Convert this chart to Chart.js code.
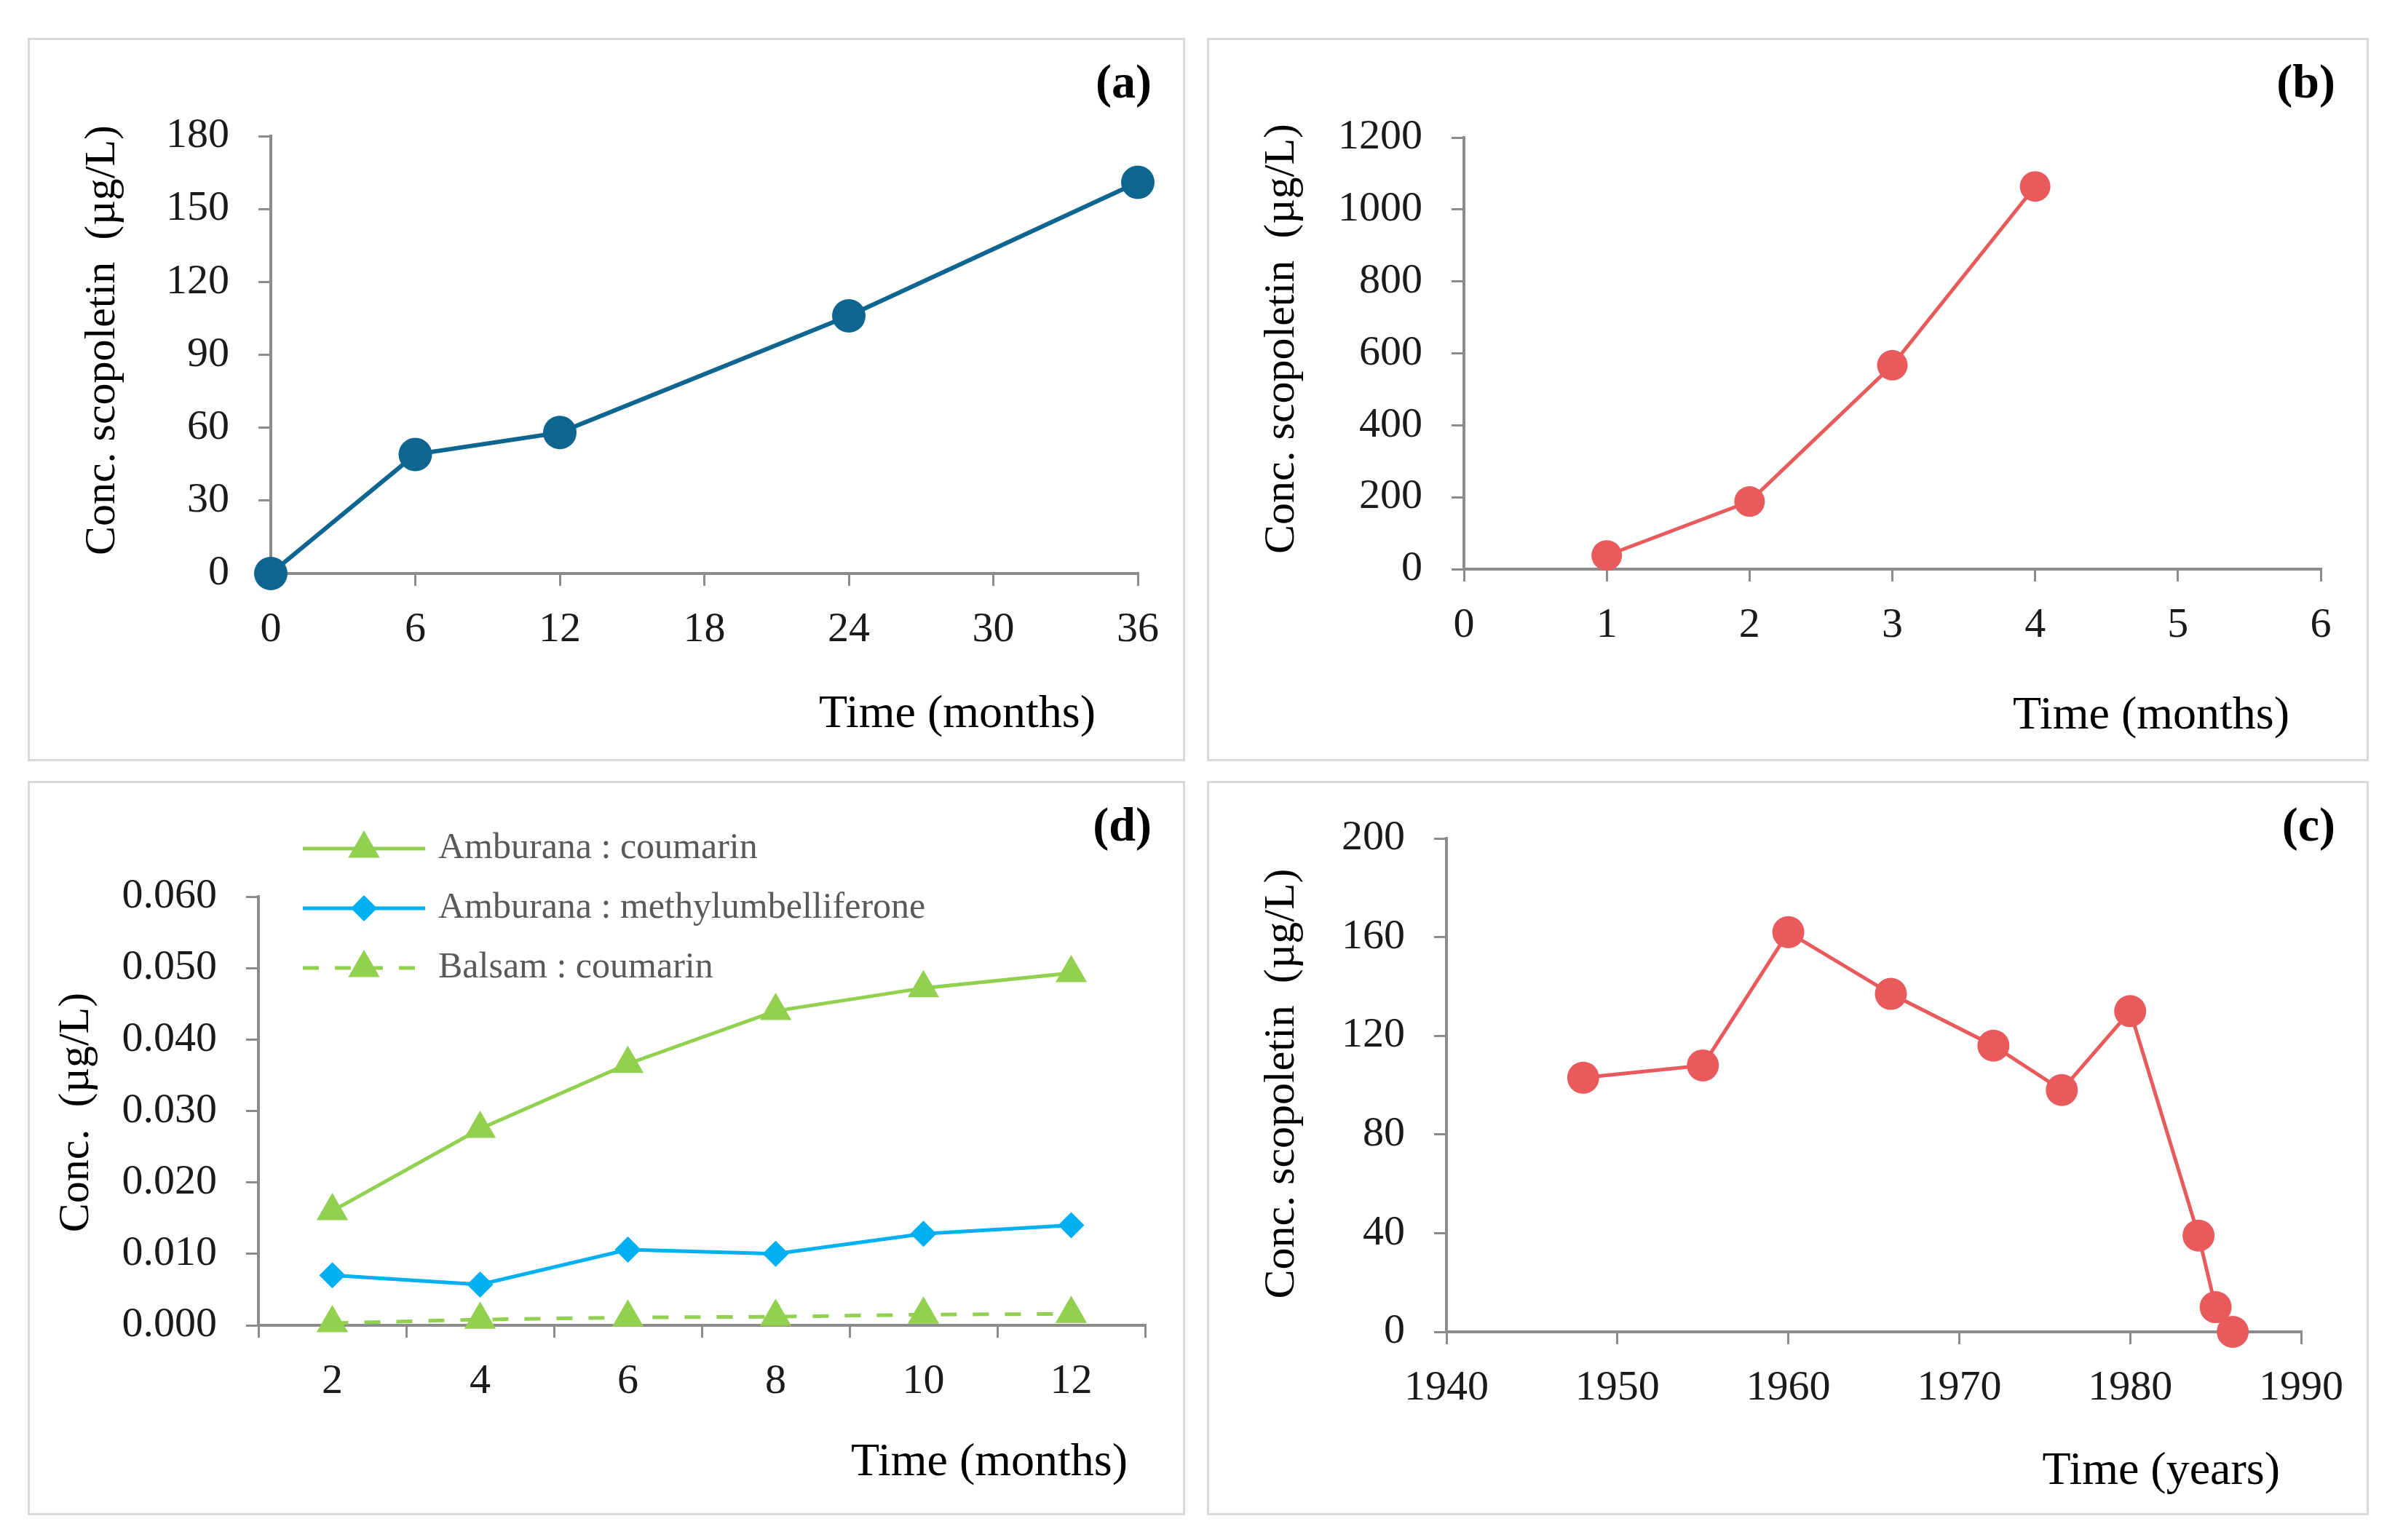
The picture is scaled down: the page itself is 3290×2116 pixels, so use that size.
<!DOCTYPE html>
<html><head><meta charset="utf-8">
<script src="https://cdn.jsdelivr.net/npm/chart.js@4.4.1/dist/chart.umd.min.js"></script>
<style>
html,body{margin:0;padding:0;background:#fff;width:3290px;height:2116px;overflow:hidden}
canvas{position:absolute}
</style></head><body>
<canvas id="pa" style="left:38px;top:52px" width="1590" height="994"></canvas>
<canvas id="pb" style="left:1658px;top:52px" width="1596" height="994"></canvas>
<canvas id="pd" style="left:38px;top:1073px" width="1590" height="1009"></canvas>
<canvas id="pc" style="left:1658px;top:1073px" width="1596" height="1009"></canvas>
<script>
// ---- data ----
const aMonths = [0, 6, 12, 24, 36];
const aScopoletin = [0, 49, 58, 106, 161];
const bMonths = [1, 2, 3, 4];
const bScopoletin = [38, 188, 567, 1064];
const cYears = [1948, 1955, 1960, 1966, 1972, 1976, 1980, 1984, 1985, 1986];
const cScopoletin = [103, 108, 162, 137, 116, 98, 130, 39, 10, 0];
const dMonths = ['2', '4', '6', '8', '10', '12'];
const dAmburanaCoumarin = [0.0160, 0.0275, 0.0366, 0.0440, 0.0472, 0.0493];
const dAmburanaMethyl = [0.0070, 0.0057, 0.0106, 0.0100, 0.0128, 0.0140];
const dBalsamCoumarin = [0.0003, 0.0008, 0.0011, 0.0012, 0.0015, 0.0016];
const seriesNames = ['Amburana : coumarin', 'Amburana : methylumbelliferone', 'Balsam : coumarin'];

const FONT = '"Liberation Serif", "Times New Roman", serif';
Chart.defaults.font.family = FONT;
Chart.defaults.color = '#1a1a1a';
const AXIS = '#8c8c8c';
const TEAL = '#0d6590';
const RED = '#e85a5b';
const GREEN = '#92d050';
const BLUE = '#00b0f0';

function drawMarker(ctx, style, r, x, y) {
  ctx.beginPath();
  if (style === 'triangle') {
    for (let k = 0; k < 3; k++) {
      const ang = k * 2 * Math.PI / 3;
      const px = x + Math.sin(ang) * r, py = y - Math.cos(ang) * r;
      if (k === 0) ctx.moveTo(px, py); else ctx.lineTo(px, py);
    }
  } else if (style === 'rectRot') {
    ctx.moveTo(x, y - r); ctx.lineTo(x + r, y); ctx.lineTo(x, y + r); ctx.lineTo(x - r, y);
  } else {
    ctx.arc(x, y, r, 0, Math.PI * 2);
  }
  ctx.closePath();
  ctx.fill();
}

const panelDeco = {
  id: 'panelDeco',
  beforeDraw(chart) {
    const {ctx, width, height} = chart;
    ctx.save();
    ctx.fillStyle = '#fff'; ctx.fillRect(0, 0, width, height);
    ctx.strokeStyle = '#d9d9d9'; ctx.lineWidth = 3;
    ctx.strokeRect(1.5, 1.5, width - 3, height - 3);
    ctx.restore();
  },
  afterDraw(chart, args, o) {
    const {ctx, chartArea: a, width} = chart;
    ctx.save();
    ctx.fillStyle = '#000';
    ctx.textBaseline = 'middle';
    ctx.textAlign = 'right';
    ctx.font = 'bold 66px ' + FONT;
    ctx.fillText(o.tag, width - 46, 65);
    ctx.font = '64px ' + FONT;
    ctx.fillText(o.xTitle, a.right + o.xdx, a.bottom + o.xdy);
    // y axis title (rotated)
    ctx.save();
    ctx.translate(o.yx, (a.top + a.bottom) / 2 + o.ydy);
    ctx.rotate(-Math.PI / 2);
    ctx.textAlign = 'center';
    ctx.font = '60px ' + FONT;
    ctx.fillText(o.yTitle, 0, 0);
    ctx.restore();
    if (o.legend) {
      const L = o.legend;
      chart.data.datasets.forEach((ds, i) => {
        const y = L.y0 + i * L.dy;
        ctx.strokeStyle = ds.borderColor; ctx.lineWidth = ds.borderWidth;
        ctx.setLineDash(ds.borderDash || []);
        ctx.beginPath(); ctx.moveTo(L.x1, y); ctx.lineTo(L.x2, y); ctx.stroke();
        ctx.setLineDash([]);
        ctx.fillStyle = ds.pointBackgroundColor;
        drawMarker(ctx, ds.pointStyle, ds.pointRadius, (L.x1 + L.x2) / 2, y);
        ctx.fillStyle = '#595959';
        ctx.textAlign = 'left';
        ctx.font = '50px ' + FONT;
        ctx.fillText(ds.label, L.tx, y);
      });
    }
    ctx.restore();
  }
};

function gridOpts(offset) {
  return {display: true, drawOnChartArea: false, drawTicks: true, tickLength: 17,
          color: AXIS, lineWidth: 3, offset: !!offset};
}
const borderOpts = {display: true, color: AXIS, width: 4};

function makePanel(id, cfg) {
  const el = document.getElementById(id);
  const W = el.width, H = el.height, A = cfg.area;
  return new Chart(el, {
    type: 'line',
    data: cfg.data,
    options: {
      responsive: false, animation: false, devicePixelRatio: 1,
      layout: {padding: {left: cfg.padLeft, top: A.top, right: W - A.right, bottom: 0}},
      plugins: {legend: {display: false}, tooltip: {enabled: false}, panelDeco: cfg.deco},
      elements: {line: {tension: 0}},
      scales: {
        x: Object.assign({
          grid: gridOpts(cfg.xOffsetGrid), border: borderOpts,
          afterFit: s => { s.height = H - A.bottom; }
        }, cfg.x, {ticks: Object.assign({padding: 26, font: {size: 58}, color: '#1a1a1a', maxRotation: 0, autoSkip: false}, cfg.x.ticks || {})}),
        y: Object.assign({
          grid: gridOpts(false), border: borderOpts,
          title: {display: false},
          afterFit: s => { s.width = A.left - cfg.padLeft; }
        }, cfg.y, {ticks: Object.assign({padding: 40, font: {size: 58}, color: '#1a1a1a', autoSkip: false}, cfg.y.ticks || {})})
      }
    },
    plugins: [panelDeco]
  });
}

function pts(xs, ys) { return xs.map((x, i) => ({x: x, y: ys[i]})); }
function circleDs(label, xs, ys, color, lw, r) {
  return {label: label, data: pts(xs, ys), borderColor: color, backgroundColor: color, borderWidth: lw,
          pointRadius: r, pointBackgroundColor: color, pointBorderWidth: 0, pointStyle: 'circle', clip: false};
}
const plain = v => String(v);

makePanel('pa', {
  area: {left: 334, right: 1525, top: 135, bottom: 736}, padLeft: 40,
  data: {datasets: [circleDs('a', aMonths, aScopoletin, TEAL, 6, 23)]},
  x: {type: 'linear', min: 0, max: 36, ticks: {stepSize: 6, callback: plain}},
  y: {type: 'linear', min: 0, max: 180, ticks: {stepSize: 30, callback: plain}},
  deco: {tag: '(a)', xTitle: 'Time (months)', xdx: -58, xdy: 194,
         yTitle: 'Conc. scopoletin  (µg/L)', yx: 103, ydy: -20}
});

makePanel('pb', {
  area: {left: 353, right: 1530, top: 137, bottom: 730}, padLeft: 40,
  data: {datasets: [circleDs('b', bMonths, bScopoletin, RED, 5, 21)]},
  x: {type: 'linear', min: 0, max: 6, ticks: {stepSize: 1, callback: plain}},
  y: {type: 'linear', min: 0, max: 1200, ticks: {stepSize: 200, callback: plain}},
  deco: {tag: '(b)', xTitle: 'Time (months)', xdx: -43, xdy: 202,
         yTitle: 'Conc. scopoletin  (µg/L)', yx: 103, ydy: -20}
});

makePanel('pc', {
  area: {left: 329, right: 1503, top: 79, bottom: 757}, padLeft: 40,
  data: {datasets: [circleDs('c', cYears, cScopoletin, RED, 5, 22)]},
  x: {type: 'linear', min: 1940, max: 1990, ticks: {stepSize: 10, callback: plain}},
  y: {type: 'linear', min: 0, max: 200, ticks: {stepSize: 40, callback: plain}},
  deco: {tag: '(c)', xTitle: 'Time (years)', xdx: -29, xdy: 192,
         yTitle: 'Conc. scopoletin  (µg/L)', yx: 103, ydy: -2}
});

makePanel('pd', {
  area: {left: 317, right: 1535, top: 159, bottom: 748}, padLeft: 20,
  xOffsetGrid: true,
  data: {labels: dMonths, datasets: [
    {label: seriesNames[0], data: dAmburanaCoumarin, borderColor: GREEN, borderWidth: 5,
     pointStyle: 'triangle', pointRadius: 25, pointBackgroundColor: GREEN, pointBorderWidth: 0, clip: false},
    {label: seriesNames[1], data: dAmburanaMethyl, borderColor: BLUE, borderWidth: 5,
     pointStyle: 'rectRot', pointRadius: 18, pointBackgroundColor: BLUE, pointBorderWidth: 0, clip: false},
    {label: seriesNames[2], data: dBalsamCoumarin, borderColor: GREEN, borderWidth: 5, borderDash: [22, 22],
     pointStyle: 'triangle', pointRadius: 25, pointBackgroundColor: GREEN, pointBorderWidth: 0, clip: false}
  ]},
  x: {type: 'category', offset: true},
  y: {type: 'linear', min: 0, max: 0.06, ticks: {stepSize: 0.01, callback: v => Number(v).toFixed(3)}},
  deco: {tag: '(d)', xTitle: 'Time (months)', xdx: -24, xdy: 189,
         yTitle: 'Conc.  (µg/L)', yx: 67, ydy: 2,
         legend: {x1: 378, x2: 546, tx: 564, y0: 93, dy: 82}}
});
</script>
</body></html>
